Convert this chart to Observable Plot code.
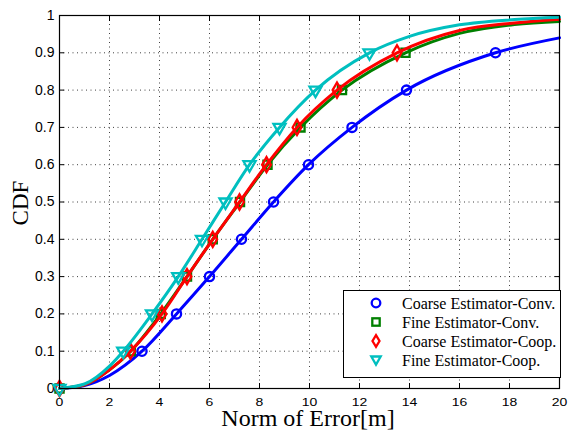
<!DOCTYPE html>
<html>
<head>
<meta charset="utf-8">
<script src="https://cdn.jsdelivr.net/npm/d3@7"></script>
<script src="https://cdn.jsdelivr.net/npm/@observablehq/plot@0.6"></script>
<style>
  body { margin: 0; background: #fff; }
  #wrap { position: relative; width: 571px; height: 435px; overflow: hidden; }
  .title { position: absolute; font-family: "Liberation Serif", "Times New Roman", serif; color: #000; white-space: nowrap; }
  #legend { position: absolute; left: 343px; top: 290px; width: 216px; height: 86px; border: 1px solid #000; background: #fff; }
  .row { position: absolute; left: 0; height: 19px; width: 216px; }
  .row svg { position: absolute; left: 24px; top: 1px; }
  .row span { position: absolute; left: 58px; top: 0; font-family: "Liberation Serif", "Times New Roman", serif; font-size: 16px; line-height: 19px; white-space: nowrap; }
</style>
</head>
<body>
<div id="wrap"></div>
<script>
// CDF levels at which markers are drawn
const cdfLevels = [0, 0.1, 0.2, 0.3, 0.4, 0.5, 0.6, 0.7, 0.8, 0.9];
// Norm of error (m) reached at each CDF level
const coarseConvX = [0, 3.3, 4.68, 6.0, 7.28, 8.56, 9.96, 11.7, 13.88, 17.44];
const fineConvX   = [0, 2.85, 4.05, 5.1, 6.13, 7.22, 8.32, 9.64, 11.3, 13.84];
const coarseCoopX = [0, 2.84, 4.1, 5.1, 6.13, 7.2, 8.28, 9.5, 11.1, 13.5];
const fineCoopX   = [0, 2.55, 3.7, 4.75, 5.7, 6.64, 7.6, 8.8, 10.24, 12.4];
// extra points on each curve (x, cdf) between / beyond the markers
const coarseConvExtra = [[1, 0.008], [2, 0.035], [20, 0.94]];
const fineConvExtra   = [[1, 0.01], [2, 0.05], [16, 0.952], [18.2, 0.976], [20, 0.984]];
const coarseCoopExtra = [[1, 0.01], [2, 0.05], [16, 0.96], [18.2, 0.98], [20, 0.99]];
const fineCoopExtra   = [[1, 0.012], [2, 0.06], [14, 0.944], [16, 0.975], [18.2, 0.989], [20, 0.995]];

const seriesNames = ["Coarse Estimator-Conv.", "Fine Estimator-Conv.", "Coarse Estimator-Coop.", "Fine Estimator-Coop."];
const seriesColors = ["#0000ff", "#008000", "#ff0000", "#00bfbf"];
const seriesSymbols = ["circle", "square", "diamond", "triangle"];

const xTicks = [0, 2, 4, 6, 8, 10, 12, 14, 16, 18, 20];
const yTicks = [0, 0.1, 0.2, 0.3, 0.4, 0.5, 0.6, 0.7, 0.8, 0.9, 1];
const yTickLabels = ["0", "0.1", "0.2", "0.3", "0.4", "0.5", "0.6", "0.7", "0.8", "0.9", "1"];

const markerX = [coarseConvX, fineConvX, coarseCoopX, fineCoopX];
const extras = [coarseConvExtra, fineConvExtra, coarseCoopExtra, fineCoopExtra];

const markerData = [];
const lineData = [];
seriesNames.forEach((name, i) => {
  const pts = [];
  markerX[i].forEach((x, j) => {
    markerData.push({series: name, idx: i, x, y: cdfLevels[j]});
    pts.push({series: name, idx: i, x, y: cdfLevels[j]});
  });
  extras[i].forEach(([x, y]) => pts.push({series: name, idx: i, x, y}));
  pts.sort((a, b) => a.x - b.x);
  lineData.push(...pts);
});

const marks = [
  Plot.gridX(xTicks, {stroke: "#000", strokeOpacity: 0.75, strokeDasharray: "1,3.5"}),
  Plot.gridY(yTicks, {stroke: "#000", strokeOpacity: 0.75, strokeDasharray: "1,3.5"}),
  Plot.axisX(xTicks, {anchor: "bottom", tickSize: 0, tickPadding: 8, label: null, fontSize: 14}),
  Plot.axisY(yTicks, {anchor: "left", tickSize: 0, tickPadding: 5, label: null, fontSize: 14,
    tickFormat: (d) => yTickLabels[yTicks.indexOf(d)]}),
  Plot.axisX(xTicks, {anchor: "bottom", tickSize: 5, dy: -5, tickFormat: () => "", label: null}),
  Plot.axisX(xTicks, {anchor: "top", tickSize: 5, dy: 5, tickFormat: () => "", label: null}),
  Plot.axisY(yTicks, {anchor: "left", tickSize: 5, dx: 5, tickFormat: () => "", label: null}),
  Plot.axisY(yTicks, {anchor: "right", tickSize: 5, dx: -5, tickFormat: () => "", label: null}),
];
seriesNames.forEach((name, i) => {
  marks.push(Plot.line(lineData.filter(d => d.idx === i), {
    x: "x", y: "y", stroke: seriesColors[i], strokeWidth: 3, curve: "monotone-x"
  }));
  marks.push(Plot.dot(markerData.filter(d => d.idx === i), {
    x: "x", y: "y", symbol: () => seriesSymbols[i], stroke: seriesColors[i], fill: "none",
    strokeWidth: 2.3, r: i === 3 ? 4.5 : 4.6, rotate: i === 3 ? 180 : 0
  }));
});
marks.push(Plot.frame({stroke: "#000", strokeWidth: 1.2}));

const chart = Plot.plot({
  width: 571,
  height: 435,
  marginLeft: 59,
  marginRight: 12,
  marginTop: 15,
  marginBottom: 47,
  x: {domain: [0, 20]},
  y: {domain: [0, 1]},
  symbol: {type: "identity"},
  style: {fontFamily: "'Liberation Sans', Arial, sans-serif", color: "#000", background: "#fff"},
  marks
});
const wrap = document.getElementById("wrap");
wrap.appendChild(chart);

// squash the x tick labels slightly (as in the reference)
d3.select(chart).selectAll('g[aria-label="x-axis tick label"]').each(function() {
  const g = d3.select(this);
  const t = g.attr("transform") || "";
  g.attr("transform", `translate(0,401) scale(1,0.84) translate(0,-401) ${t}`);
});

// Axis titles
const xt = document.createElement("div");
xt.className = "title";
xt.textContent = "Norm of Error[m]";
xt.style.fontSize = "24px"; xt.style.lineHeight = "18px";
xt.style.left = "308px"; xt.style.top = "410px"; xt.style.transform = "translateX(-50%) scaleY(0.93)";
wrap.appendChild(xt);
const yt = document.createElement("div");
yt.className = "title";
yt.textContent = "CDF";
yt.style.fontSize = "23px"; yt.style.lineHeight = "23px";
yt.style.left = "19.5px"; yt.style.top = "202.5px"; yt.style.transform = "translate(-50%,-50%) rotate(-90deg)";
wrap.appendChild(yt);

// Legend
const legend = document.createElement("div");
legend.id = "legend";
const symPaths = {
  circle: (c) => `<circle cx="8" cy="8" r="4.3" fill="none" stroke="${c}" stroke-width="2.3"/>`,
  square: (c) => `<rect x="4.3" y="4.3" width="7.4" height="7.4" fill="none" stroke="${c}" stroke-width="2.3"/>`,
  diamond: (c) => `<path d="M8,2.2L11.5,8L8,13.8L4.5,8Z" fill="none" stroke="${c}" stroke-width="2.3"/>`,
  triangle: (c) => `<path d="M3.3,4.5L12.7,4.5L8,12.6Z" fill="none" stroke="${c}" stroke-width="2.3"/>`
};
seriesNames.forEach((name, i) => {
  const row = document.createElement("div");
  row.className = "row";
  row.style.top = (3 + i * 19) + "px";
  row.innerHTML = `<svg width="16" height="16">${symPaths[seriesSymbols[i]](seriesColors[i])}</svg><span>${name}</span>`;
  legend.appendChild(row);
});
wrap.appendChild(legend);
</script>
</body>
</html>
